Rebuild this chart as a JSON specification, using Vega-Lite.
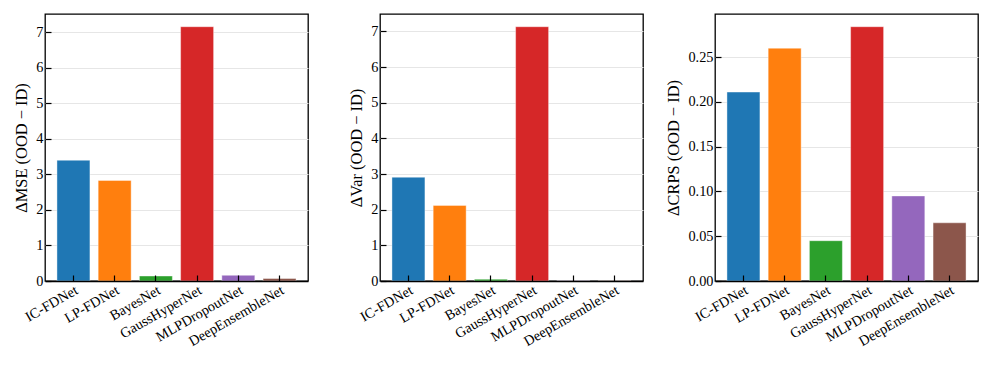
{
  "$schema": "https://vega.github.io/schema/vega-lite/v6.json",
  "padding": {"left": 13, "top": 13, "right": 5, "bottom": 5},
  "bounds": "flush",
  "spacing": 72,
  "datasets": {
    "d": [
      {"model": "IC-FDNet", "metric": "MSE", "value": 3.40},
      {"model": "LP-FDNet", "metric": "MSE", "value": 2.83},
      {"model": "BayesNet", "metric": "MSE", "value": 0.14},
      {"model": "GaussHyperNet", "metric": "MSE", "value": 7.16},
      {"model": "MLPDropoutNet", "metric": "MSE", "value": 0.16},
      {"model": "DeepEnsembleNet", "metric": "MSE", "value": 0.07},
      {"model": "IC-FDNet", "metric": "Var", "value": 2.91},
      {"model": "LP-FDNet", "metric": "Var", "value": 2.12},
      {"model": "BayesNet", "metric": "Var", "value": 0.05},
      {"model": "GaussHyperNet", "metric": "Var", "value": 7.13},
      {"model": "MLPDropoutNet", "metric": "Var", "value": 0.01},
      {"model": "DeepEnsembleNet", "metric": "Var", "value": 0.005},
      {"model": "IC-FDNet", "metric": "CRPS", "value": 0.211},
      {"model": "LP-FDNet", "metric": "CRPS", "value": 0.260},
      {"model": "BayesNet", "metric": "CRPS", "value": 0.045},
      {"model": "GaussHyperNet", "metric": "CRPS", "value": 0.284},
      {"model": "MLPDropoutNet", "metric": "CRPS", "value": 0.095},
      {"model": "DeepEnsembleNet", "metric": "CRPS", "value": 0.065}
    ]
  },
  "config": {
    "font": "Liberation Serif",
    "view": {"stroke": "black", "strokeWidth": 1.3},
    "axis": {
      "labelFont": "Liberation Serif",
      "labelFontSize": 14.3,
      "labelColor": "black",
      "titleFont": "Liberation Serif",
      "titleFontSize": 16.4,
      "titleFontWeight": "normal",
      "titleColor": "black",
      "titlePadding": 6,
      "tickColor": "black",
      "tickWidth": 1.2,
      "labelPadding": 8
    },
    "bar": {"stroke": "white", "strokeWidth": 0.8, "strokeOpacity": 0.5}
  },
  "hconcat": [
    {
      "width": 263, "height": 267,
      "data": {"name": "d"},
      "transform": [{"filter": "datum.metric === 'MSE'"}],
      "mark": {"type": "bar"},
      "encoding": {
        "x": {"field": "model", "type": "nominal", "sort": null,
          "scale": {"paddingInner": 0.2, "paddingOuter": 0.29},
          "axis": {"title": null, "labelAngle": -30, "labelAlign": "right", "labelBaseline": "top", "zindex": 1, "domain": true, "domainColor": "black", "domainWidth": 1.3, "grid": false, "ticks": true, "tickSize": -6}},
        "y": {"field": "value", "type": "quantitative",
          "scale": {"domain": [0, 7.518], "nice": false},
          "axis": {"title": "ΔMSE (OOD − ID)", "values": [0, 1, 2, 3, 4, 5, 6, 7], "grid": true, "gridColor": "#e6e6e6", "domain": false, "ticks": true, "tickSize": -6}},
        "color": {"field": "model", "type": "nominal",
          "scale": {"domain": ["IC-FDNet", "LP-FDNet", "BayesNet", "GaussHyperNet", "MLPDropoutNet", "DeepEnsembleNet"], "range": ["#1f77b4", "#ff7f0e", "#2ca02c", "#d62728", "#9467bd", "#8c564b"]},
          "legend": null}
      }
    },
    {
      "width": 263, "height": 267,
      "data": {"name": "d"},
      "transform": [{"filter": "datum.metric === 'Var'"}],
      "mark": {"type": "bar"},
      "encoding": {
        "x": {"field": "model", "type": "nominal", "sort": null,
          "scale": {"paddingInner": 0.2, "paddingOuter": 0.29},
          "axis": {"title": null, "labelAngle": -30, "labelAlign": "right", "labelBaseline": "top", "zindex": 1, "domain": true, "domainColor": "black", "domainWidth": 1.3, "grid": false, "ticks": true, "tickSize": -6}},
        "y": {"field": "value", "type": "quantitative",
          "scale": {"domain": [0, 7.487], "nice": false},
          "axis": {"title": "ΔVar (OOD − ID)", "values": [0, 1, 2, 3, 4, 5, 6, 7], "grid": true, "gridColor": "#e6e6e6", "domain": false, "ticks": true, "tickSize": -6}},
        "color": {"field": "model", "type": "nominal",
          "scale": {"domain": ["IC-FDNet", "LP-FDNet", "BayesNet", "GaussHyperNet", "MLPDropoutNet", "DeepEnsembleNet"], "range": ["#1f77b4", "#ff7f0e", "#2ca02c", "#d62728", "#9467bd", "#8c564b"]},
          "legend": null}
      }
    },
    {
      "width": 263, "height": 267,
      "data": {"name": "d"},
      "transform": [{"filter": "datum.metric === 'CRPS'"}],
      "mark": {"type": "bar"},
      "encoding": {
        "x": {"field": "model", "type": "nominal", "sort": null,
          "scale": {"paddingInner": 0.2, "paddingOuter": 0.29},
          "axis": {"title": null, "labelAngle": -30, "labelAlign": "right", "labelBaseline": "top", "zindex": 1, "domain": true, "domainColor": "black", "domainWidth": 1.3, "grid": false, "ticks": true, "tickSize": -6}},
        "y": {"field": "value", "type": "quantitative",
          "scale": {"domain": [0, 0.2982], "nice": false},
          "axis": {"title": "ΔCRPS (OOD − ID)", "values": [0, 0.05, 0.1, 0.15, 0.2, 0.25], "format": ".2f", "grid": true, "gridColor": "#e6e6e6", "domain": false, "ticks": true, "tickSize": -6}},
        "color": {"field": "model", "type": "nominal",
          "scale": {"domain": ["IC-FDNet", "LP-FDNet", "BayesNet", "GaussHyperNet", "MLPDropoutNet", "DeepEnsembleNet"], "range": ["#1f77b4", "#ff7f0e", "#2ca02c", "#d62728", "#9467bd", "#8c564b"]},
          "legend": null}
      }
    }
  ]
}
